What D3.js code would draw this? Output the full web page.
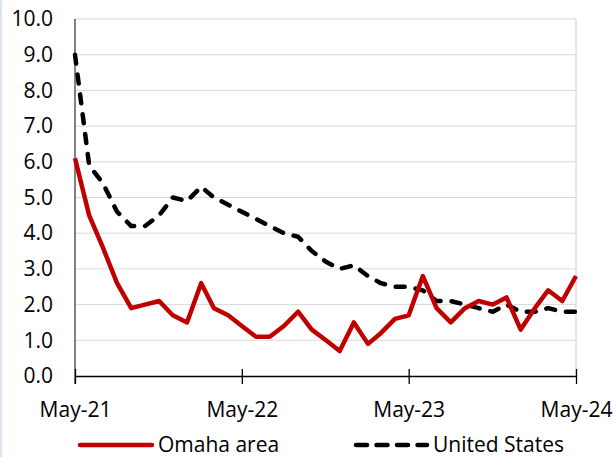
<!DOCTYPE html>
<html>
<head>
<meta charset="utf-8">
<script src="https://cdn.jsdelivr.net/npm/d3@7"></script>
<style>
  html, body { margin: 0; padding: 0; background: #fff; }
  body { border-left: 2px solid #dae3f3; width: 614px; height: 457px; overflow: hidden; }
  svg text { font-family: "Open Sans", sans-serif; fill: #000; }
</style>
</head>
<body>
<div id="chart"></div>
<script>
// monthly values, May-21 through May-24
var omaha = [6.1, 4.5, 3.6, 2.6, 1.9, 2.0, 2.1, 1.7, 1.5, 2.6, 1.9, 1.7, 1.4,
  1.1, 1.1, 1.4, 1.8, 1.3, 1.0, 0.7, 1.5, 0.9, 1.2, 1.6, 1.7, 2.8,
  1.9, 1.5, 1.9, 2.1, 2.0, 2.2, 1.3, 1.9, 2.4, 2.1, 2.8];
var unitedStates = [9.0, 5.9, 5.4, 4.6, 4.2, 4.2, 4.5, 5.0, 4.9, 5.3, 5.0, 4.8, 4.6,
  4.4, 4.2, 4.0, 3.9, 3.5, 3.2, 3.0, 3.1, 2.8, 2.6, 2.5, 2.5, 2.4,
  2.1, 2.1, 2.0, 1.9, 1.8, 2.0, 1.8, 1.8, 1.9, 1.8, 1.8];
var seriesNames = ["Omaha area", "United States"];
var xTickLabels = ["May-21", "May-22", "May-23", "May-24"];
var yTicks = [0, 1, 2, 3, 4, 5, 6, 7, 8, 9, 10];

var svgWidth = 614;
var svgHeight = 457;
// plot area edges
var margin = { top: 19, right: 40, bottom: 81, left: 73 };
var width = svgWidth - margin.left - margin.right;
var height = svgHeight - margin.top - margin.bottom;

var months = d3.range(omaha.length).map(function(i) { return new Date(2021, 4 + i, 1); });

var svg = d3.select("#chart")
  .append("svg")
  .attr("width", svgWidth)
  .attr("height", svgHeight);

var chartGroup = svg.append("g").attr("transform", `translate(${margin.left}, ${margin.top})`);

var xScale = d3.scaleTime()
  .domain([months[0], months[months.length - 1]])
  .range([0, width]);
var yScale = d3.scaleLinear().domain([0, 10]).range([height, 0]);

// gridlines
chartGroup.append("g")
  .selectAll("line")
  .data(yTicks.slice(1))
  .enter()
  .append("line")
  .attr("x1", 0)
  .attr("x2", width)
  .attr("y1", d => yScale(d))
  .attr("y2", d => yScale(d))
  .attr("stroke", "#d9d9d9")
  .attr("stroke-width", 1);

// right border of plot area
chartGroup.append("line")
  .attr("x1", width).attr("x2", width)
  .attr("y1", 0).attr("y2", height)
  .attr("stroke", "#d0d0d0")
  .attr("stroke-width", 1);

// y axis labels (no ticks)
var leftAxis = d3.axisLeft(yScale)
  .tickValues(yTicks)
  .tickFormat(d3.format(".1f"))
  .tickSize(0)
  .tickPadding(22);
var yAxis = chartGroup.append("g").call(leftAxis);
yAxis.select(".domain").remove();
yAxis.selectAll("text").style("font-size", "21px");

chartGroup.append("line")
  .attr("x1", 0).attr("x2", 0)
  .attr("y1", 0).attr("y2", height + 8)
  .attr("stroke", "#404040")
  .attr("stroke-width", 1.3);

// x axis
var bottomAxis = d3.axisBottom(xScale)
  .tickValues(xTickLabels.map(function(t, i) { return months[i * 12]; }))
  .tickFormat(function(d, i) { return xTickLabels[i]; })
  .tickSizeInner(8)
  .tickSizeOuter(0)
  .tickPadding(18);
var xAxis = chartGroup.append("g")
  .attr("transform", `translate(0, ${height})`)
  .call(bottomAxis);
xAxis.select(".domain").attr("stroke", "#000").attr("stroke-width", 1.3);
xAxis.selectAll(".tick line")
  .attr("y1", -7)
  .attr("stroke", "#000")
  .attr("stroke-width", 1.3);
xAxis.selectAll("text").style("font-size", "21px");

var line = d3.line()
  .x((d, i) => xScale(months[i]))
  .y(d => yScale(d));

chartGroup.append("path")
  .datum(unitedStates)
  .attr("d", line)
  .attr("fill", "none")
  .attr("stroke", "#000")
  .attr("stroke-width", 4.5)
  .attr("stroke-linecap", "round")
  .attr("stroke-linejoin", "round")
  .attr("stroke-dasharray", "9,11");

chartGroup.append("path")
  .datum(omaha)
  .attr("d", line)
  .attr("fill", "none")
  .attr("stroke", "#c00000")
  .attr("stroke-width", 4.5)
  .attr("stroke-linejoin", "round");

// legend
var legend = svg.append("g");
var legendY = 445;
legend.append("line")
  .attr("x1", 78).attr("x2", 150)
  .attr("y1", legendY).attr("y2", legendY)
  .attr("stroke", "#c00000")
  .attr("stroke-width", 4.5)
  .attr("stroke-linecap", "round");
legend.append("text")
  .attr("x", 156)
  .attr("y", legendY + 7)
  .style("font-size", "21px")
  .text(seriesNames[0]);
legend.append("line")
  .attr("x1", 354).attr("x2", 425)
  .attr("y1", legendY).attr("y2", legendY)
  .attr("stroke", "#000")
  .attr("stroke-width", 4.5)
  .attr("stroke-linecap", "round")
  .attr("stroke-dasharray", "11,9.5");
legend.append("text")
  .attr("x", 431)
  .attr("y", legendY + 7)
  .style("font-size", "21px")
  .text(seriesNames[1]);
</script>
</body>
</html>
